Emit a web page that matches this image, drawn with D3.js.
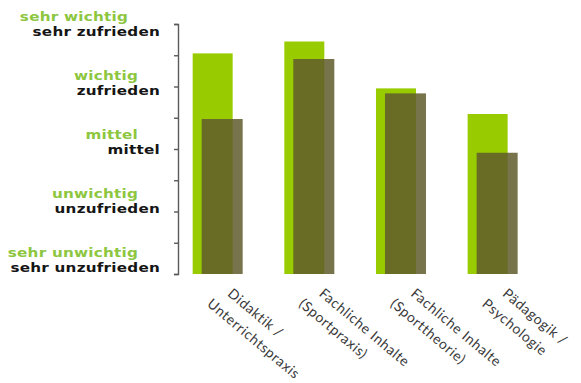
<!DOCTYPE html>
<html>
<head>
<meta charset="utf-8">
<script src="https://cdn.jsdelivr.net/npm/d3@7"></script>
<style>
  html, body { margin: 0; padding: 0; background: #ffffff; }
  svg { display: block; }
</style>
</head>
<body>
<svg id="chart" width="581" height="383"></svg>
<script>
// ---- data ----
const categories = [
  ["Didaktik /", "Unterrichtspraxis"],
  ["Fachliche Inhalte", "(Sportpraxis)"],
  ["Fachliche Inhalte", "(Sporttheorie)"],
  ["Pädagogik /", "Psychologie"]
];
const wichtigkeit = [4.53, 4.72, 3.97, 3.56];   // green series
const zufriedenheit = [3.48, 4.44, 3.89, 2.94]; // dark olive series
const levels = [5, 4, 3, 2, 1];
const greenLabels = ["sehr wichtig", "wichtig", "mittel", "unwichtig", "sehr unwichtig"];
const blackLabels = ["sehr zufrieden", "zufrieden", "mittel", "unzufrieden", "sehr unzufrieden"];
const tickValues = [1, 1.5, 2, 2.5, 3, 3.5, 4, 4.5, 5];

// ---- layout ----
const svg = d3.select("#chart");
const keys = categories.map((c, i) => "c" + i);

const x = d3.scaleBand()
  .domain(keys)
  .range([178, 532.3])
  .paddingInner(0.4545)
  .paddingOuter(0.16);

const y = d3.scaleLinear().domain([1, 5]).range([274, 24]);
const yLabel = d3.scaleLinear().domain([1, 5]).range([272, 36]);

// axis
const axis = d3.axisLeft(y).tickValues(tickValues).tickSize(4).tickSizeOuter(4).tickFormat("");
const axG = svg.append("g").attr("transform", "translate(178,0)").call(axis);
axG.select(".domain").attr("stroke", "#5a5a5a").attr("stroke-width", 1.4);
axG.selectAll(".tick line").attr("stroke", "#5a5a5a").attr("stroke-width", 1.4);

// bars
const bw = x.bandwidth();
svg.append("g").selectAll("rect")
  .data(wichtigkeit)
  .join("rect")
  .attr("x", (d, i) => x(keys[i]))
  .attr("width", bw * 0.8)
  .attr("y", d => y(d))
  .attr("height", d => y(1) - y(d))
  .attr("fill", "#99cc00");

svg.append("g").selectAll("rect")
  .data(zufriedenheit)
  .join("rect")
  .attr("x", (d, i) => x(keys[i]) + bw * 0.18)
  .attr("width", bw * 0.82)
  .attr("y", d => y(d))
  .attr("height", d => y(1) - y(d))
  .attr("fill", "#5f5a2c")
  .attr("fill-opacity", 0.85);

// y labels (wide, heavy lettering)
const lab = svg.append("g")
  .attr("font-family", "'DejaVu Sans', sans-serif")
  .attr("font-weight", "bold")
  .attr("font-size", 13)
  .attr("letter-spacing", "0.2px");

lab.selectAll("text.g")
  .data(levels)
  .join("text")
  .attr("class", "g")
  .attr("text-anchor", "end")
  .attr("transform", (d, i) => `translate(${i === 0 ? 128 : 138},${yLabel(d) - 15.5}) scale(1.17,1)`)
  .attr("fill", "#8dc63f")
  .text((d, i) => greenLabels[i]);

lab.selectAll("text.b")
  .data(levels)
  .join("text")
  .attr("class", "b")
  .attr("text-anchor", "end")
  .attr("transform", d => `translate(160,${yLabel(d)}) scale(1.17,1)`)
  .attr("fill", "#151515")
  .text((d, i) => blackLabels[i]);

// x labels
const xl = svg.append("g")
  .attr("font-family", "Lato, 'Open Sans', sans-serif")
  .attr("font-size", 14)
  .attr("letter-spacing", "0.6px")
  .attr("fill", "#3a3a3a");

const grp = xl.selectAll("g")
  .data(categories)
  .join("g")
  .attr("transform", (d, i) => `translate(${x(keys[i]) + bw / 2 + 9},295) rotate(40)`);

grp.append("text").attr("x", 0).attr("y", 0).text(d => d[0]);
grp.append("text").attr("x", -9).attr("y", 21).text(d => d[1]);
</script>
</body>
</html>
